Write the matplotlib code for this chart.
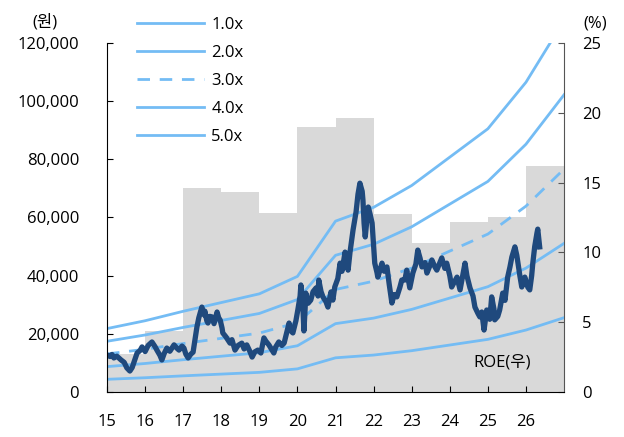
import matplotlib
matplotlib.use('Agg')
import matplotlib.pyplot as plt
from matplotlib.ticker import FuncFormatter

plt.rcParams['font.family'] = ['Open Sans', 'Noto Sans CJK KR', 'DejaVu Sans']

# yearly ROE (%), bars span each year
roe_years = [15, 16, 17, 18, 19, 20, 21, 22, 23, 24, 25, 26]
roe = [2.7, 4.4, 14.6, 14.3, 12.8, 19.0, 19.6, 12.75, 10.7, 12.2, 12.5, 16.2]

# BPS at year starts (won), PBR band = BPS * multiple
bps_years = [15, 16, 17, 18, 19, 20, 21, 22, 23, 24, 25, 26, 27]
bps = [4360, 4900, 5550, 6150, 6750, 7950, 11750, 12700, 14200, 16150, 18100, 21300, 25550]
multiples = [1.0, 2.0, 3.0, 4.0, 5.0]

# share price (won)
price_t = [15.00, 15.08, 15.13, 15.18, 15.26, 15.37, 15.45, 15.52, 15.60, 15.66,
           15.71, 15.79, 15.87, 15.92, 16.00, 16.08, 16.18, 16.26, 16.31, 16.39,
           16.44, 16.50, 16.57, 16.65, 16.76, 16.84, 16.89, 16.97, 17.02, 17.07,
           17.13, 17.20, 17.26, 17.31, 17.36, 17.41, 17.49, 17.55, 17.57, 17.62,
           17.65, 17.70, 17.76, 17.81, 17.89, 17.94, 17.97, 18.02, 18.04, 18.12,
           18.23, 18.28, 18.36, 18.44, 18.54, 18.60, 18.67, 18.75, 18.81, 18.88,
           18.96, 19.04, 19.12, 19.17, 19.25, 19.33, 19.38, 19.43, 19.51, 19.59,
           19.65, 19.72, 19.78, 19.83, 19.88, 19.96, 20.01, 20.07, 20.09, 20.14,
           20.17, 20.20, 20.22, 20.28, 20.35, 20.41, 20.49, 20.54, 20.56, 20.62,
           20.67, 20.75, 20.80, 20.88, 20.93, 20.98, 21.06, 21.12, 21.17, 21.25,
           21.30, 21.33, 21.38, 21.46, 21.54, 21.59, 21.64, 21.70, 21.72, 21.75,
           21.78, 21.83, 21.86, 21.91, 21.96, 21.99, 22.03, 22.09, 22.11, 22.17,
           22.22, 22.28, 22.35, 22.41, 22.48, 22.54, 22.61, 22.69, 22.74, 22.82,
           22.87, 22.95, 23.03, 23.11, 23.16, 23.22, 23.27, 23.35, 23.40, 23.48,
           23.53, 23.61, 23.66, 23.74, 23.79, 23.87, 23.92, 24.00, 24.05, 24.13,
           24.19, 24.27, 24.34, 24.40, 24.45, 24.53, 24.61, 24.66, 24.74, 24.79,
           24.84, 24.90, 24.97, 25.05, 25.10, 25.16, 25.18, 25.26, 25.31, 25.39,
           25.45, 25.52, 25.58, 25.63, 25.71, 25.76, 25.79, 25.84, 25.89, 25.94,
           25.97, 26.05, 26.10, 26.15, 26.18, 26.23, 26.29, 26.31, 26.36]
price = [12700, 12200, 12900, 11700, 12300, 11000, 10200, 8300, 7200, 8400,
         10300, 13400, 14300, 15500, 13900, 16000, 17200, 15600, 14400, 12600,
         11000, 13200, 15100, 14000, 16200, 15000, 14400, 15800, 15100, 13000,
         11700, 13000, 13700, 18000, 22300, 25500, 29200, 26500, 27800, 24500,
         23700, 26000, 25800, 23500, 27500, 25200, 24800, 22000, 20300, 19000,
         16800, 18000, 14400, 16000, 16800, 14800, 16200, 14000, 12000, 13800,
         14400, 13400, 18600, 17500, 16200, 14500, 13400, 15500, 17200, 16000,
         16800, 20500, 23700, 21000, 20300, 24500, 28200, 33000, 36800, 30000,
         21000, 28200, 34000, 30500, 31600, 34500, 35800, 33000, 38500, 34500,
         32700, 31000, 29200, 34400, 31600, 36100, 39000, 44300, 41500, 48100,
         44000, 41900, 48000, 55700, 62000, 68000, 71800, 69000, 66000, 58000,
         53300, 60000, 63600, 61000, 58100, 52000, 44300, 41000, 39500, 42000,
         44300, 41500, 43000, 37000, 30600, 33500, 32700, 36000, 38500, 38500,
         41900, 35800, 40900, 44000, 48800, 46000, 43000, 44500, 40900, 43500,
         45400, 43000, 41900, 44500, 46100, 42500, 44300, 40000, 36100, 38000,
         39500, 35100, 40000, 44300, 40000, 35800, 33000, 29200, 27000, 25800,
         27500, 21300, 28200, 25000, 32700, 28500, 24800, 26000, 28200, 34000,
         31500, 39500, 43000, 46400, 49900, 47000, 44300, 40000, 36100, 38000,
         39500, 36000, 35100, 40000, 44300, 50000, 54700, 56000, 49900]

x_ticks = list(range(15, 27))
band_color = '#74BCF4'
price_color = '#1F497D'
bar_color = '#D9D9D9'

fig = plt.figure(figsize=(6.24, 4.37), dpi=100)
ax = fig.add_axes([0.1715, 0.103, 0.7324, 0.7986])
ax2 = ax.twinx()

ax2.bar(roe_years, roe, width=1.0, align='edge', color=bar_color, linewidth=0)
ax2.set_ylim(0, 25)
ax2.set_yticks([0, 5, 10, 15, 20, 25])

ax.set_zorder(ax2.get_zorder() + 1)
ax.patch.set_visible(False)

band_lines = []
for m in multiples:
    vals = [b * m for b in bps]
    ls = '--' if m == 3.0 else '-'
    line, = ax.plot(bps_years, vals, color=band_color, lw=2, ls=ls,
                    label=f'{m:.1f}x')
    if m == 3.0:
        line.set_dashes((4.5, 3.5))
    band_lines.append(line)

ax.plot(price_t, price, color=price_color, lw=3.8, solid_joinstyle='round')

ax.set_xlim(15, 27)
ax.set_ylim(0, 120000)
ax.set_xticks(x_ticks)
ax.set_xticklabels([str(t) for t in x_ticks])
ax.set_yticks(range(0, 120001, 20000))
ax.yaxis.set_major_formatter(FuncFormatter(lambda v, p: f'{int(v):,}'))

for a in (ax, ax2):
    a.spines['top'].set_visible(False)
ax.spines['right'].set_visible(False)
ax2.spines['left'].set_visible(False)
ax2.spines['bottom'].set_visible(False)
ax2.spines['right'].set_color('#555555')

ax.tick_params(axis='x', direction='in', length=4.5, labelsize=12, pad=16)
ax.tick_params(axis='y', direction='in', length=4.5, labelsize=12, pad=20)
ax2.tick_params(axis='y', direction='in', length=4.5, labelsize=12, pad=13,
                color='#555555')

fig.text(0.072, 0.95, '(원)', fontsize=12, ha='center', va='center')
fig.text(0.9535, 0.947, '(%)', fontsize=12, ha='center', va='center')
ax.text(25.37, 10300, 'ROE(우)', fontsize=12, ha='center', va='center')

leg = fig.legend(handles=band_lines, loc='upper left',
                 bbox_to_anchor=(137 / 624, 1 - 17 / 437), frameon=False,
                 fontsize=12, handlelength=4.0, handletextpad=0.45,
                 labelspacing=0.72, borderpad=0, borderaxespad=0)

fig.savefig('out.png', dpi=100)
